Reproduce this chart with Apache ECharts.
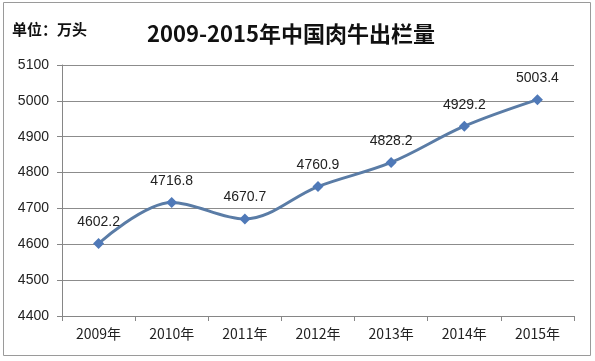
<!DOCTYPE html>
<html><head><meta charset="utf-8">
<script src="https://cdn.jsdelivr.net/npm/echarts@6/dist/echarts.min.js"></script>
<style>html,body{margin:0;padding:0;background:#fff}#c{width:595px;height:361px}</style>
</head><body><div id="c"></div>
<script>
const categories = ['2009年','2010年','2011年','2012年','2013年','2014年','2015年'];
const values = [4602.2, 4716.8, 4670.7, 4760.9, 4828.2, 4929.2, 5003.4];
const yMin = 4400, yMax = 5100, yStep = 100;

const chart = echarts.init(document.getElementById('c'), null, {renderer:'canvas'});
chart.setOption({
  animation:false,
  backgroundColor:'#fff',
  graphic:[
    {type:'rect', shape:{x:3.5,y:2.5,width:587,height:353}, style:{fill:'none', stroke:'#9a9a9a', lineWidth:1}, z:-1},
    {type:'text', left:12, top:22, style:{text:'单位：万头', font:'bold 15px "Noto Sans CJK SC", sans-serif', fill:'#111'}},
    {type:'text', left:147, top:23, style:{text:'2009-2015年中国肉牛出栏量', font:'bold 22px "Noto Sans CJK SC", sans-serif', fill:'#111'}}
  ],
  grid:{left:62, right:21, top:65, bottom:45},
  xAxis:{
    type:'category', data:categories, boundaryGap:true,
    axisLine:{lineStyle:{color:'#868686'}},
    axisTick:{show:true, length:5, lineStyle:{color:'#868686'}, alignWithLabel:false},
    axisLabel:{color:'#222', fontSize:14, fontFamily:'"Noto Sans CJK SC", sans-serif', margin:11}
  },
  yAxis:{
    type:'value', min:yMin, max:yMax, interval:yStep,
    axisLine:{show:true, lineStyle:{color:'#868686'}},
    axisTick:{show:true, length:5, lineStyle:{color:'#868686'}},
    splitLine:{lineStyle:{color:'#8c8c8c', width:1}},
    axisLabel:{color:'#222', fontSize:14, fontFamily:'"Liberation Sans", sans-serif', margin:13,
      formatter:v=>String(v)}
  },
  series:[{
    type:'line', data:values, smooth:0.35,
    symbol:'diamond', symbolSize:11,
    lineStyle:{color:'#5a7ca6', width:3},
    itemStyle:{color:'#4f79b8'},
    label:{show:true, position:'top', distance:9, color:'#222', fontSize:14,
      fontFamily:'"Liberation Sans", sans-serif', formatter:p=>p.value.toFixed(1)}
  }]
});
</script></body></html>
